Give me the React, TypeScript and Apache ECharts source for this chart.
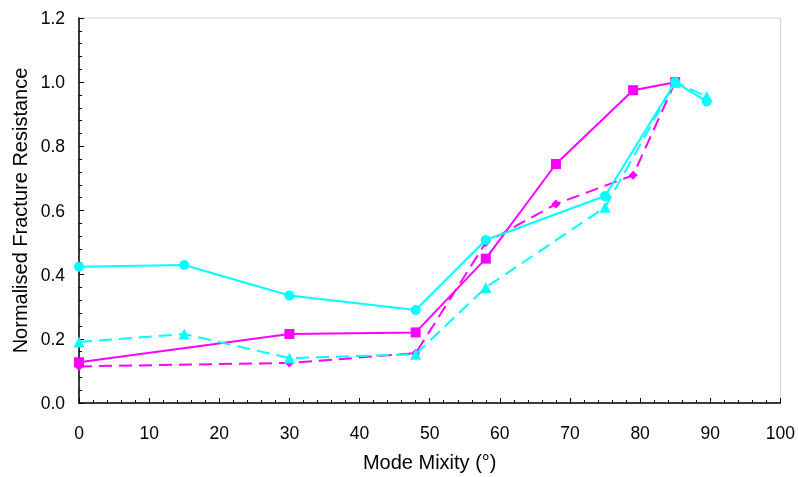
import React, { useEffect, useRef } from "react";
import * as echarts from "echarts";

const magentaSolidX = [0, 30, 48, 58, 68, 79, 85];
const magentaSolidY = [0.127, 0.215, 0.22, 0.45, 0.745, 0.975, 1.0];
const magentaDashX = [0, 30, 48, 58, 68, 79, 85];
const magentaDashY = [0.114, 0.125, 0.155, 0.5, 0.62, 0.71, 1.0];
const cyanSolidX = [0, 15, 30, 48, 58, 75, 85, 89.5];
const cyanSolidY = [0.425, 0.43, 0.335, 0.29, 0.508, 0.645, 1.0, 0.94];
const cyanDashX = [0, 15, 30, 48, 58, 75, 85, 89.5];
const cyanDashY = [0.19, 0.215, 0.14, 0.152, 0.36, 0.61, 1.0, 0.955];

const xTitle = "Mode Mixity (°)";
const yTitle = "Normalised Fracture Resistance";

const zip = (xs: number[], ys: number[]) => xs.map((x, i) => [x, ys[i]]);

export default function App() {
  const ref = useRef<HTMLDivElement>(null);
  useEffect(() => {
    if (!ref.current) return;
    const chart = echarts.init(ref.current, null, { renderer: "svg" });
    const font = "Arial, 'Liberation Sans', sans-serif";
    const magenta = "#ff00ff";
    const cyan = "#00ffff";
    chart.setOption({
      animation: false,
      grid: {
        left: 79,
        right: 16,
        top: 18,
        bottom: 70,
        show: true,
        borderColor: "#d4d4d4",
        borderWidth: 1,
      },
      xAxis: {
        type: "value",
        min: 0,
        max: 100,
        interval: 10,
        name: xTitle,
        nameLocation: "middle",
        nameGap: 49,
        nameTextStyle: { fontFamily: font, fontSize: 20, color: "#000" },
        axisLine: { lineStyle: { color: "#000", width: 1.5 } },
        axisTick: { inside: true, length: 5, lineStyle: { color: "#000" } },
        minorTick: { show: true, splitNumber: 5, length: 3, lineStyle: { color: "#000" } },
        axisLabel: { fontFamily: font, fontSize: 17.5, color: "#000", margin: 21 },
        splitLine: { show: false },
      },
      yAxis: {
        type: "value",
        min: 0,
        max: 1.2,
        interval: 0.2,
        name: yTitle,
        nameLocation: "middle",
        nameGap: 47,
        nameTextStyle: { fontFamily: font, fontSize: 20, color: "#000" },
        axisLine: { lineStyle: { color: "#000", width: 1.5 } },
        axisTick: { inside: true, length: 5, lineStyle: { color: "#000" } },
        minorTick: { show: true, splitNumber: 5, length: 3, lineStyle: { color: "#000" } },
        axisLabel: {
          fontFamily: font,
          fontSize: 17.5,
          color: "#000",
          margin: 14,
          formatter: (v: number) => v.toFixed(1),
        },
        splitLine: { show: false },
      },
      series: [
        {
          type: "line",
          data: zip(magentaDashX, magentaDashY),
          symbol: "diamond",
          symbolSize: 9,
          itemStyle: { color: magenta },
          lineStyle: { color: magenta, width: 2, type: [13, 7] },
          z: 2,
        },
        {
          type: "line",
          data: zip(magentaSolidX, magentaSolidY),
          symbol: "rect",
          symbolSize: 10,
          itemStyle: { color: magenta },
          lineStyle: { color: magenta, width: 2 },
          z: 3,
        },
        {
          type: "line",
          data: zip(cyanDashX, cyanDashY),
          symbol: "triangle",
          symbolSize: 11,
          itemStyle: { color: cyan },
          lineStyle: { color: cyan, width: 2, type: [13, 7] },
          z: 4,
        },
        {
          type: "line",
          data: zip(cyanSolidX, cyanSolidY),
          symbol: "circle",
          symbolSize: 10,
          itemStyle: { color: cyan },
          lineStyle: { color: cyan, width: 2 },
          z: 5,
        },
      ],
    });
    return () => chart.dispose();
  }, []);
  return (
    <div
      ref={ref}
      style={{ position: "fixed", left: 0, top: 0, width: 798, height: 477 }}
    />
  );
}
